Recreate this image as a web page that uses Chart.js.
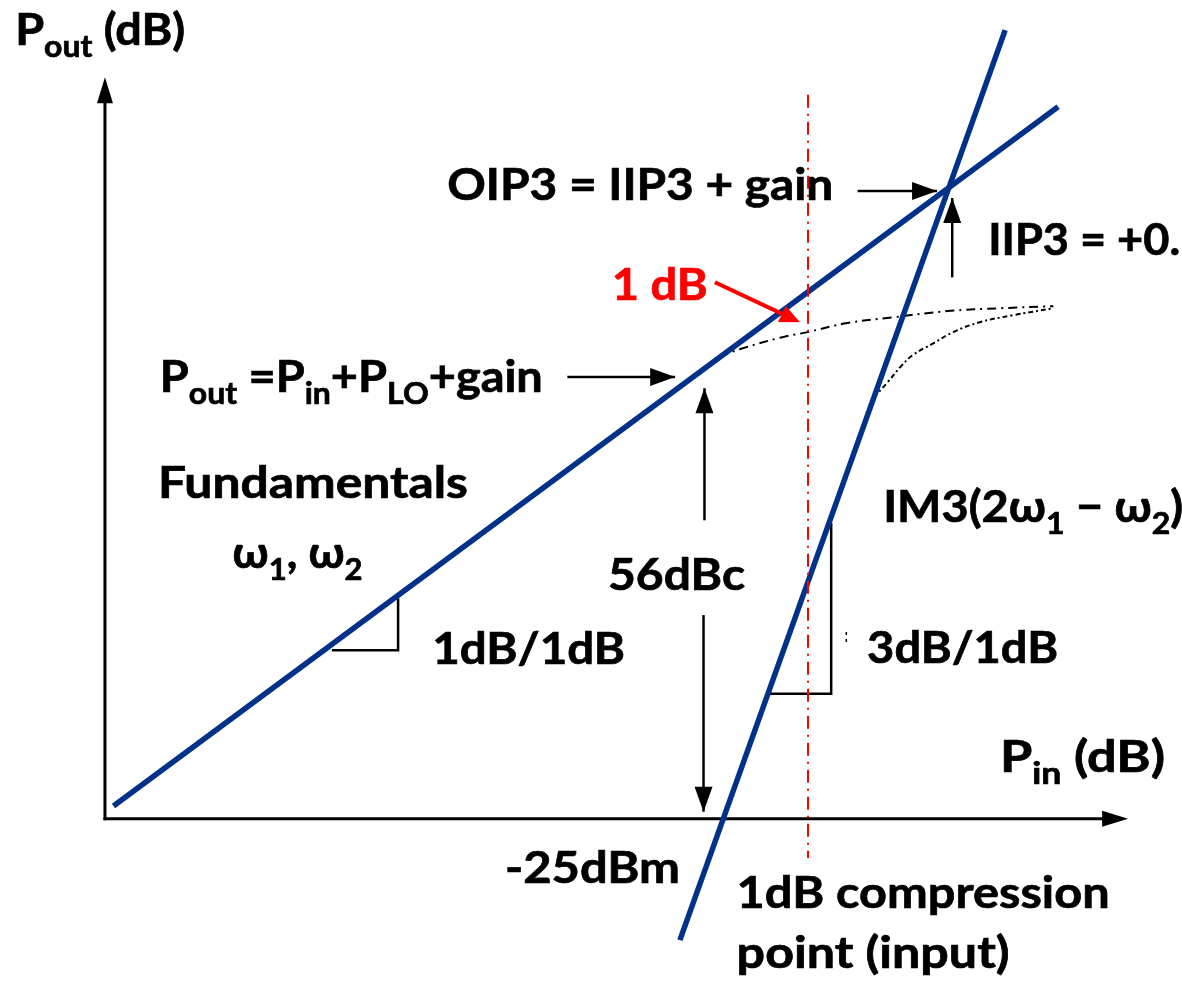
<!DOCTYPE html>
<html>
<head>
<meta charset="utf-8">
<title>Intercept point sketch</title>
<script src="https://cdn.jsdelivr.net/npm/chart.js@4.4.0/dist/chart.umd.min.js"></script>
<style>
  html, body { margin: 0; padding: 0; background: #fff; }
  #wrap { width: 1182px; height: 983px; position: relative; }
</style>
</head>
<body>
<div id="wrap"><canvas id="chart"></canvas></div>
<script>
// x = Pin (dBm), y = Pout (dB)
const fundPin = [-88.0, 11.9];
const fundPout = [-77.8, 21.8];
const im3Pin = [-28.1, 6.3];
const im3Pout = [-96.9, 32.7];

// compressed (dashed) curves
const compFundPin = [-23.9, -21.7, -17.5, -14.6, -10.4, -5.6, 0.2, 5.8, 11.4];
const compFundPout = [-13.8, -12.7, -11.1, -10.3, -9.0, -8.2, -7.3, -6.9, -6.6];
const compIm3Pin = [-7.6, -6.1, -4.8, -3.5, -1.3, 0.8, 3.6, 7.1, 11.4];
const compIm3Pout = [-19.6, -17.4, -15.3, -13.6, -11.9, -10.3, -8.9, -7.9, -6.9];

// 1 dB compression marker (input)
const markerPin = [-14.55, -14.55];
const markerPout = [23.5, -85.2];

// axes
const originPin = -88.9;
const originPout = -79.6;
const pinAxisEnd = 19.3;
const poutAxisEnd = 26.0;

// slope triangles
const slope1Pin = [-64.9, -57.9, -57.9];
const slope1Pout = [-55.6, -55.6, -48.2];
const slope3Pin = [-18.6, -12.1, -12.1];
const slope3Pout = [-61.8, -61.8, -37.5];
const tickPin = [-10.5, -10.5];
const tickPout = [-53.0, -54.9];

// arrows: [fromPin, fromPout, toPin, toPout]
const arrows = [
  [-9.3, 9.8, -0.9, 9.8],      // OIP3
  [0.7, -2.5, 0.7, 8.8],       // IIP3
  [-40.0, -16.7, -28.6, -16.7],// Pout
  [-25.5, -37.1, -25.5, -18.3],// 56dBc up
  [-25.6, -50.6, -25.6, -78.6] // 56dBc down
];
const redArrow = [-24.4, -3.2, -15.4, -8.9];

// labels: parts, anchor [Pin, Pout] (left/baseline), width in px
const labels = [
  { parts: [['P'], ['out', 1], [' (dB)']], at: [-98.4, 30.6], width: 170 },
  { parts: [['OIP3 = IIP3 + gain']], at: [-52.7, 8.5], width: 386 },
  { parts: [['IIP3 = +0.']], at: [4.5, 0.7], width: 192 },
  { parts: [['1 dB']], at: [-35.3, -5.7], width: 96, color: '#ff0000' },
  { parts: [['P'], ['out', 1], [' =P'], ['in', 1], ['+P'], ['LO', 1], ['+gain']], at: [-83.1, -18.8], width: 383 },
  { parts: [['Fundamentals']], at: [-83.3, -33.9], width: 310 },
  { parts: [['\u03c9'], ['1', 1], [', \u03c9'], ['2', 1]], at: [-75.4, -43.9], width: 130 },
  { parts: [['56dBc']], at: [-35.7, -47.0], width: 137 },
  { parts: [['1dB/1dB']], at: [-54.3, -57.6], width: 193 },
  { parts: [['IM3(2\u03c9'], ['1', 1], [' \u2212 \u03c9'], ['2', 1], [')']], at: [-6.6, -37.3], width: 300 },
  { parts: [['3dB/1dB']], at: [-8.3, -57.4], width: 191 },
  { parts: [['P'], ['in', 1], [' (dB)']], at: [5.75, -73.0], width: 165 },
  { parts: [['-25dBm']], at: [-46.6, -88.8], width: 175 },
  { parts: [['1dB compression']], at: [-22.1, -92.3], width: 373 },
  { parts: [['point (input)']], at: [-22.1, -100.9], width: 273 }
];

const blue = '#02318a';
const pts = (xs, ys) => xs.map((x, i) => ({ x: x, y: ys[i] }));

function drawHead(ctx, x1, y1, x2, y2, len, half) {
  const a = Math.atan2(y2 - y1, x2 - x1);
  ctx.beginPath();
  ctx.moveTo(x2, y2);
  ctx.lineTo(x2 - len * Math.cos(a) + half * Math.sin(a), y2 - len * Math.sin(a) - half * Math.cos(a));
  ctx.lineTo(x2 - len * Math.cos(a) - half * Math.sin(a), y2 - len * Math.sin(a) + half * Math.cos(a));
  ctx.closePath();
  ctx.fill();
}

function drawRich(ctx, parts, x, y, width, color) {
  const size = 44, subSize = 30;
  const font = s => 'bold ' + s + 'px Lato, "Noto Sans", "DejaVu Sans", sans-serif';
  let w = 0;
  parts.forEach(p => { ctx.font = font(p[1] ? subSize : size); w += ctx.measureText(p[0]).width; });
  const sx = width ? width / w : 1;
  ctx.save();
  ctx.translate(x, y);
  ctx.scale(sx, 1);
  ctx.fillStyle = color || '#000';
  ctx.strokeStyle = color || '#000';
  ctx.lineWidth = 0.7;
  ctx.textBaseline = 'alphabetic';
  let cx = 0;
  parts.forEach(p => {
    ctx.font = font(p[1] ? subSize : size);
    ctx.fillText(p[0], cx, p[1] ? 12 : 0);
    ctx.strokeText(p[0], cx, p[1] ? 12 : 0);
    cx += ctx.measureText(p[0]).width;
  });
  ctx.restore();
}

const sketchPlugin = {
  id: 'sketch',
  afterDatasetsDraw(chart) {
    const ctx = chart.ctx;
    const px = v => chart.scales.x.getPixelForValue(v);
    const py = v => chart.scales.y.getPixelForValue(v);
    ctx.save();
    ctx.fillStyle = '#000';
    ctx.strokeStyle = '#000';

    // axis heads
    drawHead(ctx, px(originPin), py(originPout), px(originPin), py(poutAxisEnd), 26, 8);
    drawHead(ctx, px(originPin), py(originPout), px(pinAxisEnd), py(originPout), 26, 8);

    // black arrows
    ctx.lineWidth = 2.5;
    arrows.forEach(a => {
      const x1 = px(a[0]), y1 = py(a[1]), x2 = px(a[2]), y2 = py(a[3]);
      ctx.beginPath();
      ctx.moveTo(x1, y1);
      ctx.lineTo(x2, y2);
      ctx.stroke();
      drawHead(ctx, x1, y1, x2, y2, 25, 9);
    });

    // red arrow to the 1 dB point
    ctx.strokeStyle = '#ff0000';
    ctx.fillStyle = '#ff0000';
    ctx.lineWidth = 4;
    const r = redArrow.map((v, i) => (i % 2 ? py(v) : px(v)));
    const ang = Math.atan2(r[3] - r[1], r[2] - r[0]);
    ctx.beginPath();
    ctx.moveTo(r[0], r[1]);
    ctx.lineTo(r[2] - 12 * Math.cos(ang), r[3] - 12 * Math.sin(ang));
    ctx.stroke();
    drawHead(ctx, r[0], r[1], r[2], r[3], 20, 9);

    labels.forEach(l => drawRich(ctx, l.parts, px(l.at[0]), py(l.at[1]), l.width, l.color));
    ctx.restore();
  }
};

new Chart(document.getElementById('chart'), {
  type: 'scatter',
  data: {
    datasets: [
      { label: '1dB compression point', data: pts(markerPin, markerPout), borderColor: '#ff0000', borderWidth: 2, borderDash: [13, 6, 2, 6], order: 0 },
      { label: 'Fundamentals', data: pts(fundPin, fundPout), borderColor: blue, borderWidth: 5.5, order: 1 },
      { label: 'IM3', data: pts(im3Pin, im3Pout), borderColor: blue, borderWidth: 5.5, order: 1 },
      { label: 'Fundamentals (compressed)', data: pts(compFundPin, compFundPout), borderColor: '#000', borderWidth: 2, borderDash: [9, 5, 2, 5], tension: 0.4, order: 2 },
      { label: 'IM3 (compressed)', data: pts(compIm3Pin, compIm3Pout), borderColor: '#000', borderWidth: 2, borderDash: [5, 3, 2, 3], tension: 0.4, order: 2 },
      { label: 'Pout axis', data: pts([originPin, originPin], [originPout, poutAxisEnd - 2]), borderColor: '#000', borderWidth: 3, borderCapStyle: 'square', order: 2 },
      { label: 'Pin axis', data: pts([originPin, pinAxisEnd - 2], [originPout, originPout]), borderColor: '#000', borderWidth: 3, borderCapStyle: 'square', order: 2 },
      { label: 'slope 1', data: pts(slope1Pin, slope1Pout), borderColor: '#000', borderWidth: 2.5, order: 2 },
      { label: 'slope 3', data: pts(slope3Pin, slope3Pout), borderColor: '#000', borderWidth: 2.5, order: 2 },
      { label: 'tick', data: pts(tickPin, tickPout), borderColor: '#000', borderWidth: 1.5, borderDash: [3, 4], order: 2 }
    ].map(d => Object.assign({ showLine: true, pointRadius: 0, fill: false }, d))
  },
  options: {
    responsive: true,
    maintainAspectRatio: false,
    animation: false,
    layout: { padding: 0 },
    plugins: { legend: { display: false }, tooltip: { enabled: false } },
    scales: {
      x: { type: 'linear', min: -100, max: 25, display: false },
      y: { type: 'linear', min: -103, max: 37, display: false }
    }
  },
  plugins: [sketchPlugin]
});
</script>
</body>
</html>
